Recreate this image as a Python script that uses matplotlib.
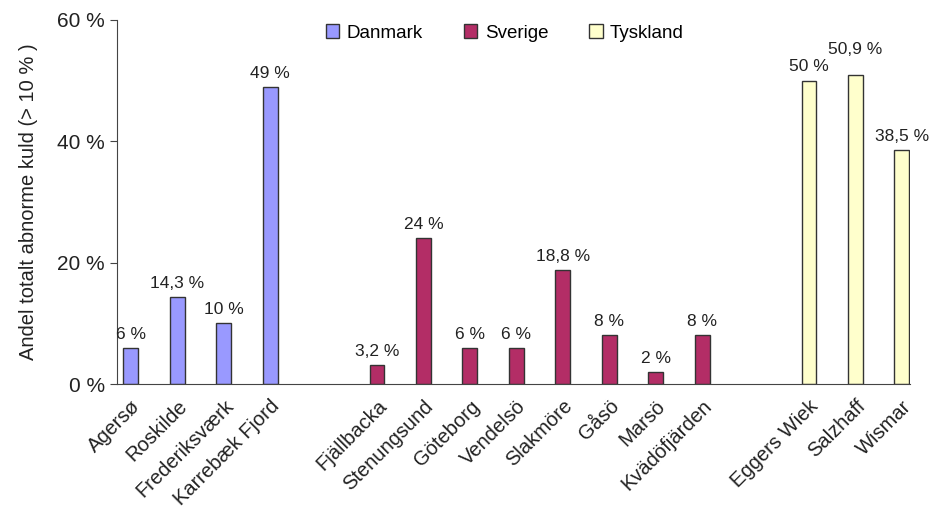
import numpy as np
import matplotlib.pyplot as plt

plt.rcParams['font.family'] = ['Liberation Sans', 'DejaVu Sans']

dk_names = ['Agersø', 'Roskilde', 'Frederiksværk', 'Karrebæk Fjord']
dk_values = [6, 14.3, 10, 49]
se_names = ['Fjällbacka', 'Stenungsund', 'Göteborg', 'Vendelsö', 'Slakmöre',
            'Gåsö', 'Marsö', 'Kvädöfjärden']
se_values = [3.2, 24, 6, 6, 18.8, 8, 2, 8]
de_names = ['Eggers Wiek', 'Salzhaff', 'Wismar']
de_values = [50, 50.9, 38.5]

groups = [
    ('Danmark', dk_names, dk_values, '#9999FF'),
    ('Sverige', se_names, se_values, '#B32D66'),
    ('Tyskland', de_names, de_values, '#FFFFCC'),
]


def fmt(v):
    s = ('%g' % v).replace('.', ',')
    return s + ' %'


def main():
    fig = plt.figure(figsize=(9.35, 5.08), dpi=100)
    ax = fig.add_axes([0.125, 0.244, 0.848, 0.717])

    gap = 2.3
    start = 0.0
    all_x = []
    all_names = []
    for label, names, vals, color in groups:
        x = start + np.arange(len(names))
        ax.bar(x, vals, width=0.32, color=color, edgecolor='#333333',
               linewidth=1.0, label=label)
        prev = None
        for xi, v in zip(x, vals):
            lift = 1.0
            # raise a label that would collide with its neighbour's label
            if prev is not None and v > prev and v - prev < 2 and len(fmt(v)) > 4:
                lift = 3.0
            ax.text(xi, v + lift, fmt(v), ha='center', va='bottom',
                    fontsize=12.5, color='#222222')
            prev = v
        all_x.extend(x)
        all_names.extend(names)
        start = x[-1] + gap

    ax.set_xlim(-0.3, all_x[-1] + 0.17)
    ax.set_ylim(0, 60)
    ax.set_yticks([0, 20, 40, 60])
    ax.set_yticklabels(['0 %', '20 %', '40 %', '60 %'], fontsize=15,
                       color='#222222')
    ax.set_xticks(all_x)
    ax.set_xticklabels(all_names, rotation=45, ha='right',
                       rotation_mode='anchor', fontsize=14.5, color='#222222')
    ax.tick_params(axis='x', length=0, pad=9)
    ax.tick_params(axis='y', length=5, color='#444444')
    for s in ['top', 'right']:
        ax.spines[s].set_visible(False)
    ax.spines['left'].set_color('#444444')
    ax.spines['bottom'].set_color('#444444')

    ax.set_ylabel('Andel totalt abnorme kuld (> 10 % )', fontsize=14.5,
                  color='#222222', labelpad=14)

    fig.legend(loc='upper center', bbox_to_anchor=(0.54, 0.985), ncol=3,
               frameon=False, fontsize=13.5, handlelength=0.7,
               handleheight=0.7, handletextpad=0.4, columnspacing=2.2)

    fig.savefig('out.png', dpi=100)


if __name__ == "__main__":
    main()
